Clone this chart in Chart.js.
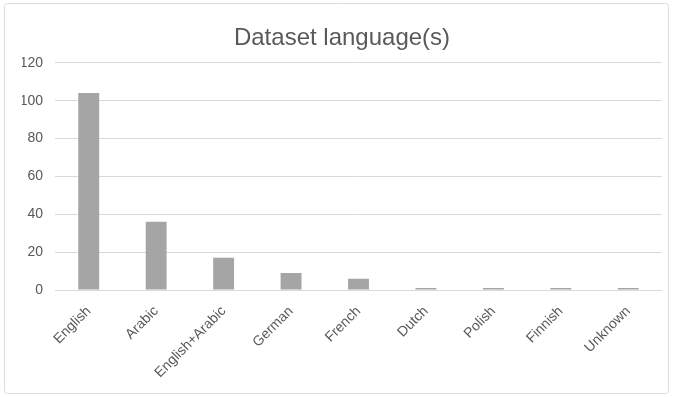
<!DOCTYPE html>
<html>
<head>
<meta charset="utf-8">
<script src="https://cdn.jsdelivr.net/npm/chart.js@4/dist/chart.umd.min.js"></script>
<style>
  html, body { margin: 0; padding: 0; background: #ffffff; }
  #wrap { width: 673px; height: 397px; position: relative; }
</style>
</head>
<body>
<div id="wrap"><canvas id="c" width="673" height="397"></canvas></div>
<script>
// Number of datasets per language
const categories = ["English", "Arabic", "English+Arabic", "German", "French", "Dutch", "Polish", "Finnish", "Unknown"];
const counts = [104, 36, 17, 9, 6, 1, 1, 1, 1];
const yTicks = [0, 20, 40, 60, 80, 100, 120];

const textColor = "#595959";
const gridColor = "#d9d9d9";
const barColor = "#a5a5a5";
const fontFamily = "'Liberation Sans', Arial, Helvetica, sans-serif";

// light frame around the whole chart
const framePlugin = {
  id: "frame",
  beforeDraw(chart) {
    const ctx = chart.ctx;
    ctx.save();
    ctx.fillStyle = "#ffffff";
    ctx.fillRect(0, 0, chart.width, chart.height);
    ctx.strokeStyle = "#dcdcdc";
    ctx.lineWidth = 1;
    ctx.beginPath();
    ctx.roundRect(4.5, 3.5, chart.width - 9, chart.height - 7, 3);
    ctx.stroke();
    ctx.restore();
  }
};

new Chart(document.getElementById("c"), {
  type: "bar",
  data: {
    labels: categories,
    datasets: [{
      label: "Datasets",
      data: counts,
      backgroundColor: barColor,
      borderWidth: 0,
      barPercentage: 0.31,
      categoryPercentage: 1.0
    }]
  },
  options: {
    responsive: false,
    animation: false,
    devicePixelRatio: 1,
    layout: { padding: { left: 22, right: 11, top: 0, bottom: 0 } },
    plugins: {
      legend: { display: false },
      tooltip: { enabled: false },
      title: {
        display: true,
        text: "Dataset language(s)",
        color: textColor,
        font: { family: fontFamily, size: 24, weight: "normal", lineHeight: 1.2 },
        padding: { top: 24, bottom: 10 }
      }
    },
    scales: {
      x: {
        grid: { display: false, drawTicks: false },
        border: { display: false },
        ticks: {
          color: textColor,
          font: { family: fontFamily, size: 14 },
          minRotation: 45,
          maxRotation: 45,
          autoSkip: false,
          padding: 13
        },
        afterFit(scale) { scale.height = 107; }
      },
      y: {
        min: 0,
        max: 120,
        grid: { color: gridColor, drawTicks: false, lineWidth: 1 },
        border: { display: false },
        afterBuildTicks(scale) { scale.ticks = yTicks.map(v => ({ value: v })); },
        ticks: {
          color: textColor,
          font: { family: fontFamily, size: 14 },
          padding: 12
        },
        afterFit(scale) { scale.width = 33; }
      }
    }
  },
  plugins: [framePlugin]
});
</script>
</body>
</html>
